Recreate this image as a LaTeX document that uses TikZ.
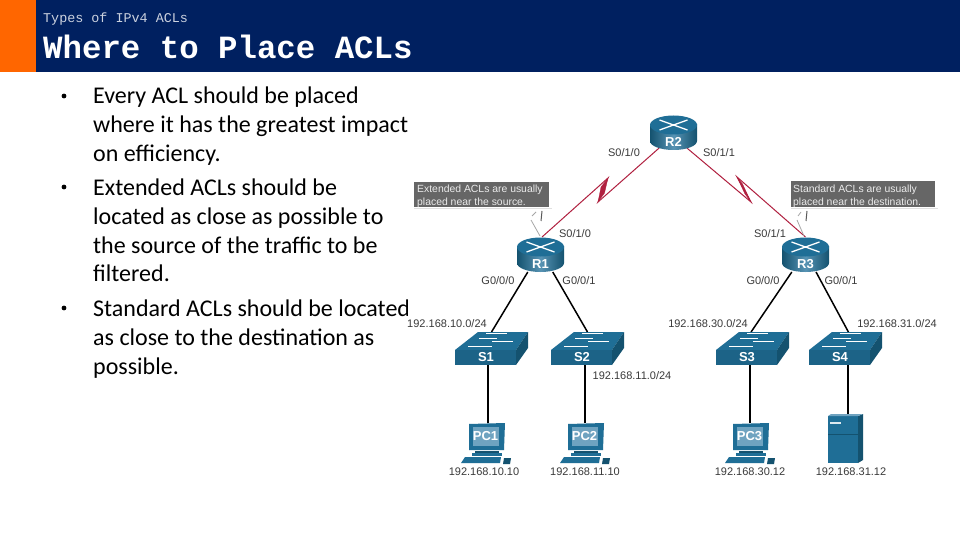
\documentclass[tikz,border=0pt]{standalone}
\usepackage{fontspec}
\setmainfont{Carlito}
\newfontfamily\netfont{Liberation Sans}
\newfontfamily\headfont{Liberation Mono}
\definecolor{navy}{HTML}{002060}
\definecolor{orangebar}{HTML}{FF6600}
\definecolor{ciscoblue}{HTML}{1F6E96}
\definecolor{ciscodark}{HTML}{14526F}
\definecolor{ciscolight}{HTML}{6FA3C0}
\definecolor{serialred}{HTML}{B0203F}
\definecolor{calloutgrey}{HTML}{666666}
\definecolor{labelgrey}{HTML}{3A3A3A}
\tikzset{
  x=1pt,y=-1pt,
  devbox/.style={inner sep=0pt,outer sep=0pt,rectangle},
  serial/.style={draw=serialred,line width=1pt},
  lan/.style={draw=black,line width=1.5pt},
  zfill/.style={fill=serialred,draw=serialred,line width=.3pt},
  netlabel/.style={font=\netfont\fontsize{11}{13}\selectfont,text=labelgrey,inner sep=0pt},
  bodyline/.style={anchor=base west,inner sep=0pt,font=\fontsize{24}{28}\selectfont,text=black},
  callout/.style={fill=calloutgrey,inner sep=0pt,outer sep=0pt},
  callouttext/.style={anchor=base west,inner sep=0pt,text=white!92!black,font=\netfont\fontsize{10.4}{12}\selectfont},
  iconlabel/.style={text=white,inner sep=0pt,font=\netfont\bfseries\fontsize{13}{15}\selectfont},
  arroww/.style={draw=white,line width=1.3pt},
  pics/routericon/.style={code={
    \shade[left color=ciscodark,right color=ciscodark,middle color=ciscolight!70!ciscoblue]
      (-23.5,-9) -- (23.5,-9) -- (23.5,8) arc[start angle=0,end angle=180,x radius=23.5,y radius=9] -- cycle;
    \fill[ciscoblue] (0,-8) ellipse[x radius=23.5,y radius=9.5];
    \draw[arroww] (-14,-13) -- (14,-3) (14,-13) -- (-14,-3);
    \node[iconlabel] at (0,9) {#1};
  }},
  pics/switchicon/.style={code={
    \fill[ciscoblue] (0,18) -- (23,0) -- (73,0) -- (61,18) -- cycle;
    \fill[ciscoblue!90!black] (0,18) rectangle (61,33);
    \fill[ciscodark] (61,18) -- (73,0) -- (73,16) -- (61,33) -- cycle;
    \draw[white,line width=1pt] (31,1.8) -- (52,1.8) (24,6) -- (42,6) (37,9) -- (58,9) (13,14) -- (37,14);
    \node[iconlabel] at (31,25.5) {#1};
  }},
  pics/pcicon/.style={code={
    \fill[ciscoblue] (0,1) -- (36,0) -- (35,27) -- (0,27) -- cycle;
    \fill[ciscolight] (3.5,4) rectangle (30,23);
    \node[iconlabel] at (16.5,13) {#1};
    \fill[ciscodark] (6,28) rectangle (30,30);
    \fill[ciscoblue] (3,30) rectangle (33,33);
    \fill[ciscoblue] (-4,34) -- (32,34) -- (31,40) -- (-8,40) -- cycle;
    \fill[ciscodark] (35,35) -- (42,35) -- (41,41) -- (34,41) -- cycle;
  }},
  pics/servericon/.style={code={
    \fill[ciscoblue] (0,2) rectangle (30,49);
    \fill[ciscodark] (30,2) -- (35,0) -- (35,46) -- (30,49) -- cycle;
    \fill[ciscolight] (0,2) -- (3,0) -- (35,0) -- (30,2) -- cycle;
    \fill[white!85!ciscoblue] (2,8) rectangle (13,9.5);
    \draw[ciscodark,line width=.4pt] (0,20) -- (30,20);
  }},
}
\begin{document}
\begin{tikzpicture}
\useasboundingbox (0,0) rectangle (960,540);
% header
\fill[white] (0,0) rectangle (960,540);
\fill[orangebar] (0,0) rectangle (36,72);
\fill[navy] (36,0) rectangle (960,72);
\node[anchor=base west,inner sep=0pt,text=white!80!navy,font=\headfont\fontsize{13.4}{15}\selectfont] (sub) at (43,23) {Types of IPv4 ACLs};
\node[anchor=base west,inner sep=0pt,text=white,font=\headfont\bfseries\fontsize{32.4}{36}\selectfont] (title) at (43,59) {Where to Place ACLs};
% body
\foreach \n/\yy/\tx in {a/104/{Every ACL should be placed},b/133/{where it has the greatest impact},c/161/{on efficiency.},d/195/{Extended ACLs should be},e/224/{located as close as possible to},f/253/{the source of the traffic to be},g/281/{filtered.},h/316/{Standard ACLs should be located},i/345/{as close to the destination as},j/374/{possible.}}
  \node[bodyline] (line\n) at (93,\yy) {\tx};
\foreach \n/\yy in {1/96,2/187,3/308}
  \fill[black] (64,\yy) circle[radius=2.4];
\fill[white] (407.5,76) rectangle (960,490);
% device frames
\node[devbox,minimum width=49pt,minimum height=35pt] (R1) at (540.5,254.5) {};
\node[devbox,minimum width=47pt,minimum height=33pt] (R2) at (673.5,131.5) {};
\node[devbox,minimum width=47pt,minimum height=35pt] (R3) at (805.5,254.5) {};
\node[devbox,minimum width=73pt,minimum height=33pt] (S1) at (491.5,348.5) {};
\node[devbox,minimum width=73pt,minimum height=33pt] (S2) at (587.5,348.5) {};
\node[devbox,minimum width=73pt,minimum height=33pt] (S3) at (752.5,348.5) {};
\node[devbox,minimum width=73pt,minimum height=33pt] (S4) at (845.5,348.5) {};
\node[devbox,minimum width=36pt,minimum height=40pt] (PC1) at (487,443) {};
\node[devbox,minimum width=36pt,minimum height=40pt] (PC2) at (586,443) {};
\node[devbox,minimum width=36pt,minimum height=40pt] (PC3) at (751,443) {};
\node[devbox,minimum width=35pt,minimum height=49pt] (SRV) at (845.5,438.5) {};
% connectors
\draw[serial] (R2.229) -- (598,202) -- (608,178) -- (R1.85);
\fill[zfill] (598,202) -- (601,187) -- (608,178) -- (604.5,193) -- cycle;
\draw[serial] (R2.309) -- (751,202) -- (737,177) -- (R3.north);
\fill[zfill] (737,177) -- (742.5,184) -- (751,202) -- (745,194) -- cycle;
\draw[lan] (R1.234.5) -- (S1.north);
\draw[lan] (R1.305.5) -- (S2.north);
\draw[lan] (R3.232.4) -- (S3.95);
\draw[lan] (R3.301) -- (S4.80);
\draw[lan] ([xshift=-3.5pt]S1.south) -- ([xshift=1pt]PC1.north);
\draw[lan] ([xshift=-2.5pt]S2.south) -- ([xshift=-1pt]PC2.north);
\draw[lan] ([xshift=-2.5pt]S3.south) -- ([xshift=-1pt]PC3.north);
\draw[lan] ([xshift=2.5pt]S4.south) -- ([xshift=2.5pt]SRV.north);
% icons
\pic at (540.5,255) {routericon=R1};
\pic at (673.5,133) {routericon=R2};
\pic at (805.5,255) {routericon=R3};
\pic at (455,332) {switchicon=S1};
\pic at (551,332) {switchicon=S2};
\pic at (716,332) {switchicon=S3};
\pic at (809,332) {switchicon=S4};
\pic at (469,423) {pcicon=PC1};
\pic at (568,423) {pcicon=PC2};
\pic at (733,423) {pcicon=PC3};
\pic at (828,414) {servericon};
% callouts
\node[callout,minimum width=135pt,minimum height=25pt] (calloutL) at (481.5,194.5) {};
\node[callout,minimum width=144pt,minimum height=26pt] (calloutR) at (863,194) {};
\node[callouttext] (calloutLa) at (417,192) {Extended ACLs are usually};
\node[callouttext] (calloutLb) at (417,205) {placed near the source.};
\node[callouttext] (calloutRa) at (793,192) {Standard ACLs are usually};
\node[callouttext] (calloutRb) at (793,205) {placed near the destination.};
\draw[black!12,line width=.7pt] (414,208.5) -- (552,208.5) (791,208) -- (938,208);
% callout tails
\draw[black!35,line width=.8pt] (531,220) -- (540,236) (532,216) -- (536,212);
\draw[black!65,line width=1pt] (542,211) -- (541,221);
\draw[black!35,line width=.8pt] (797,220) -- (804,236) (798,216) -- (801,212);
\draw[black!65,line width=1pt] (807,211) -- (806,221);
% labels
\foreach \n/\xx/\yy/\tx in {
 a/624/153/S0\slash 1\slash 0, b/719/153/S0\slash 1\slash 1, c/575/233.5/S0\slash 1\slash 0, d/770/234/S0\slash 1\slash 1,
 e/498/281/G0\slash 0\slash 0, f/579/281/G0\slash 0\slash 1, g/763/281/G0\slash 0\slash 0, h/841/281/G0\slash 0\slash 1,
 i/447/324/192.168.10.0\slash 24, j/632/375.5/192.168.11.0\slash 24, k/708/324/192.168.30.0\slash 24, l/897/324/192.168.31.0\slash 24,
 m/484/472/192.168.10.10, n/585/472/192.168.11.10, o/750/472/192.168.30.12, p/851/472/192.168.31.12}
  \node[netlabel] (lab\n) at (\xx,\yy) {\tx};
\end{tikzpicture}
\end{document}
